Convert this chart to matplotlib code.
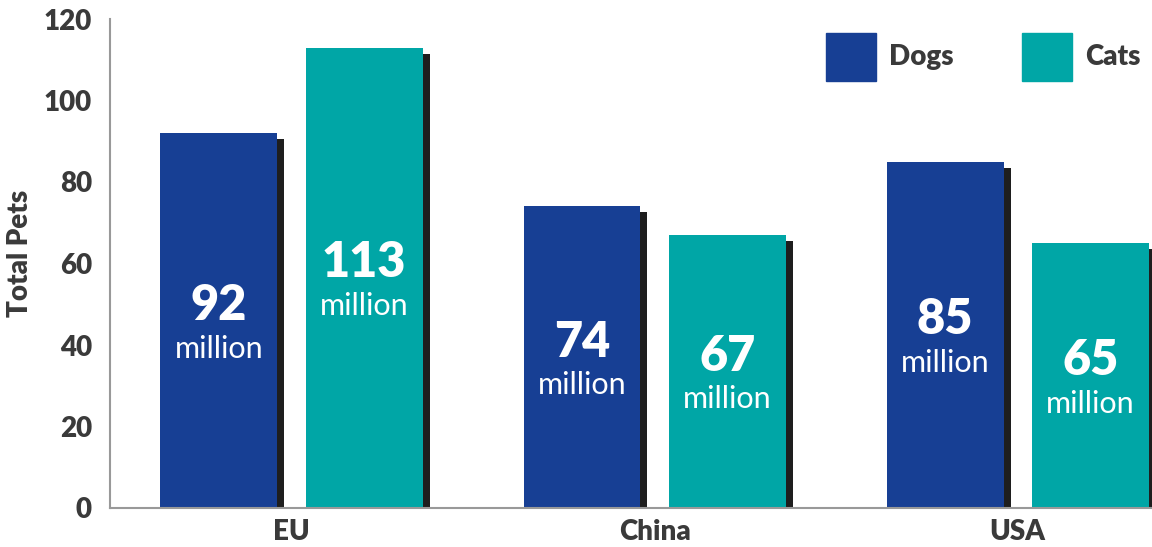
import numpy as np
import matplotlib.pyplot as plt
from matplotlib.patches import Rectangle

plt.rcParams['font.family'] = ['Lato', 'DejaVu Sans']

regions = ["EU", "China", "USA"]
dogs = [92, 74, 85]
cats = [113, 67, 65]
series_names = ["Dogs", "Cats"]

dog_color = "#173f94"
cat_color = "#00a6a6"
shadow_color = "#1e1e1e"
text_color = "#3a3a3a"

W, H = 1152, 547
fig = plt.figure(figsize=(W / 100, H / 100), dpi=100)
ax = fig.add_axes([110 / W, 39 / H, 1 - 110 / W, 489 / H])

x = np.arange(len(regions))
width = 0.322
off = 0.2
px_x = 1 / 363.0        # one pixel in data units on x
px_y = 120 / 489.0      # one pixel in data units on y

for vals, shift, col in [(dogs, -off, dog_color), (cats, off, cat_color)]:
    vals = np.array(vals, dtype=float)
    # shadow
    ax.bar(x + shift + 7 * px_x, vals - 6 * px_y, width, color=shadow_color, zorder=1)
    ax.bar(x + shift, vals, width, color=col, zorder=2)
    for xi, v in zip(x + shift, vals):
        yc = v / 2 - 6 * px_y
        ax.text(xi, yc + 21 * px_y, f"{int(v)}", ha="center", va="center",
                color="white", fontsize=35, fontweight="heavy", zorder=3)
        ax.text(xi, yc - 22 * px_y, "million", ha="center", va="center",
                color="white", fontsize=22, zorder=3)

ax.set_xlim(-0.5, 2.37)
ax.set_ylim(0, 120)
yt = np.arange(0, 121, 20)
ax.set_yticks(yt)
ax.set_yticklabels([str(v) for v in yt], fontweight="heavy")
ax.set_xticks(x)
ax.set_xticklabels(regions, fontweight="heavy")
ax.tick_params(axis="both", length=0, labelsize=20, labelcolor=text_color)
ax.tick_params(axis="y", pad=13)
ax.tick_params(axis="x", pad=8)

ax.set_ylabel("Total Pets", fontsize=20, fontweight="heavy", color=text_color)
ax.yaxis.set_label_coords(-0.074, 0.52)

for s in ["top", "right"]:
    ax.spines[s].set_visible(False)
for s in ["left", "bottom"]:
    ax.spines[s].set_color("#999999")
    ax.spines[s].set_linewidth(1.5)

# legend squares and labels, placed in figure pixels
for name, col, lx in zip(series_names, [dog_color, cat_color], [826, 1022]):
    fig.patches.append(Rectangle((lx / W, (H - 81) / H), 50 / W, 48 / H,
                                 transform=fig.transFigure, color=col))
    fig.text((lx + 63) / W, (H - 57) / H, name, ha="left", va="center",
             fontsize=20, fontweight="heavy", color=text_color)

fig.savefig("out.png", dpi=100)
